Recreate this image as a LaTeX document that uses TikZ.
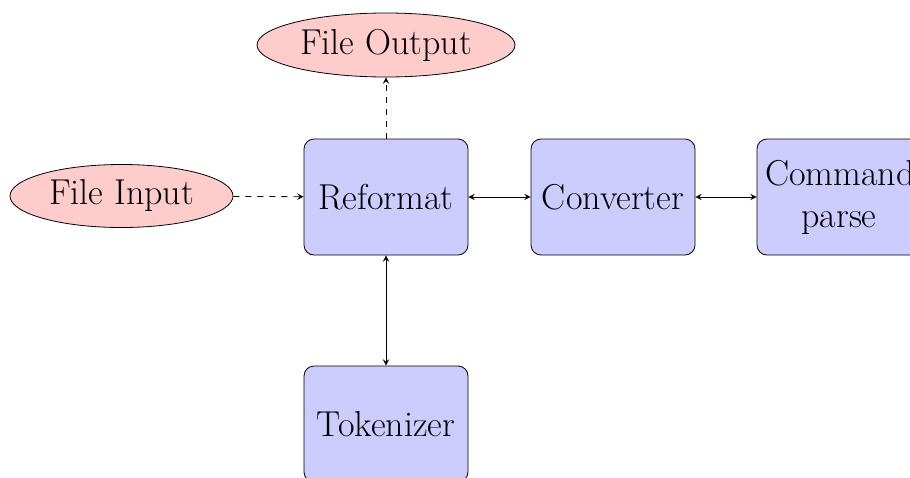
\documentclass[tikz,border=0pt]{standalone}
\usetikzlibrary{shapes.geometric,arrows}

\tikzset{
    block/.style={rectangle,draw,fill=blue!20,rounded corners=5pt,
        minimum width=82pt,minimum height=58pt,text width=74pt,align=center,
        font=\fontsize{18}{21}\selectfont},
    fileio/.style={ellipse,draw,fill=red!20,font=\fontsize{18}{21}\selectfont,inner sep=0pt},
    line/.style={draw,>=stealth}
}

\begin{document}
\begin{tikzpicture}[x=0.5pt,y=-0.5pt]
    \clip (0,0) rectangle (910,477);
    \node[block] (reformat) at (386,197) {Reformat};
    \node[block] (converter) at (613,197) {Converter};
    \node[block] (command) at (839,197) {Command\\ parse};
    \node[block] (tokenizer) at (386,424) {Tokenizer};
    \node[fileio,minimum width=129pt,minimum height=32pt] (output) at (386,45) {File Output};
    \node[fileio,minimum width=111.5pt,minimum height=31.5pt] (input) at (121.5,196) {File Input};
    \path[line,dashed,->] (input) -- (reformat);
    \path[line,dashed,->] (reformat) -- (output);
    \path[line,<->] (reformat) -- (converter);
    \path[line,<->] (converter) -- (command);
    \path[line,<->] (reformat) -- (tokenizer);
\end{tikzpicture}
\end{document}
